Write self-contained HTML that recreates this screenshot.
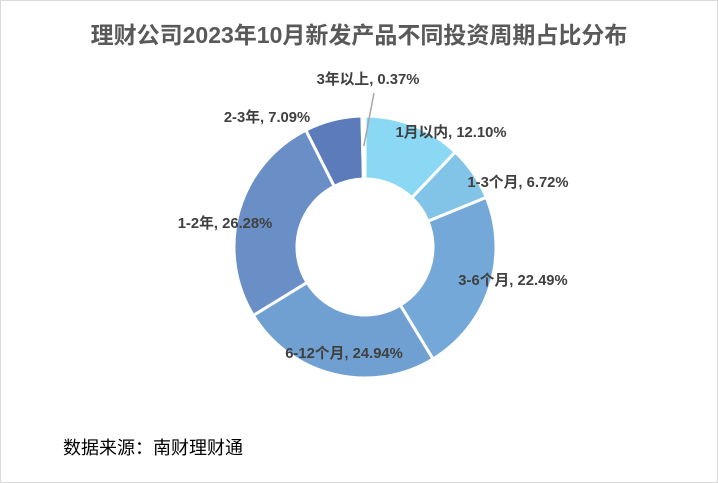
<!DOCTYPE html>
<html><head><meta charset="utf-8"><style>
body{margin:0;background:#fff;}
#c{position:relative;width:716px;height:481px;border:1px solid #d9d9d9;font-family:"Liberation Sans","Noto Sans CJK SC",sans-serif;}
.t{position:absolute;left:0;width:716px;top:15px;text-align:center;font-size:23px;font-weight:bold;color:#595959;}
.src{position:absolute;left:62px;top:433px;font-size:18px;color:#000;}
svg{position:absolute;left:0;top:0;}
</style></head><body>
<div id="c">
<div class="t">理财公司2023年10月新发产品不同投资周期占比分布</div>
<svg id="s" width="716" height="481"></svg>
<div class="src">数据来源：南财理财通</div>
</div>
<script>
const categories=["1月以内","1-3个月","3-6个月","6-12个月","1-2年","2-3年","3年以上"];
const values=[12.10,6.72,22.49,24.94,26.28,7.09,0.37];
const colors=["#8ad8f3","#82c4e8","#74a8d8","#70a0d2","#6a8ec6","#5b7bbb","#4a6aa8"];
const labelPos=[[450,131],[517,181],[512,279],[343,352],[224,222],[266,116],[367,78]];
const svg=document.getElementById('s');const NS="http://www.w3.org/2000/svg";
const cx=364,cy=246,R=131,r=68;
const total=values.reduce((a,b)=>a+b,0);
function pt(a,rad){return [cx+rad*Math.sin(a),cy-rad*Math.cos(a)];}
let a0=0;
values.forEach((v,i)=>{
 const a1=a0+v/total*2*Math.PI;const large=(a1-a0)>Math.PI?1:0;
 const p1=pt(a0,R),p2=pt(a1,R),p3=pt(a1,r),p4=pt(a0,r);
 const p=document.createElementNS(NS,'path');
 p.setAttribute('d',`M${p1}A${R},${R} 0 ${large} 1 ${p2}L${p3}A${r},${r} 0 ${large} 0 ${p4}Z`);
 p.setAttribute('fill',colors[i]);p.setAttribute('stroke','#fff');p.setAttribute('stroke-width','3');
 
 
 svg.appendChild(p);
 if(i===values.length-1){
  const m=(a0+a1)/2;const q=pt(m,R-30);
  const l=document.createElementNS(NS,'line');
  l.setAttribute('x1',q[0]);l.setAttribute('y1',q[1]);l.setAttribute('x2',373);l.setAttribute('y2',92);
  l.setAttribute('stroke','#a6a6a6');l.setAttribute('stroke-width','1.5');
  
  
  svg.appendChild(l);
 }
 const t=document.createElementNS(NS,'text');
 t.setAttribute('x',labelPos[i][0]);t.setAttribute('y',labelPos[i][1]+5);
 t.setAttribute('text-anchor','middle');t.setAttribute('font-size','14.8');t.setAttribute('font-weight','bold');
 t.setAttribute('fill','#404040');
 t.textContent=categories[i]+', '+values[i].toFixed(2)+'%';
 
 
 svg.appendChild(t);
 a0=a1;
});
</script>
</body></html>
